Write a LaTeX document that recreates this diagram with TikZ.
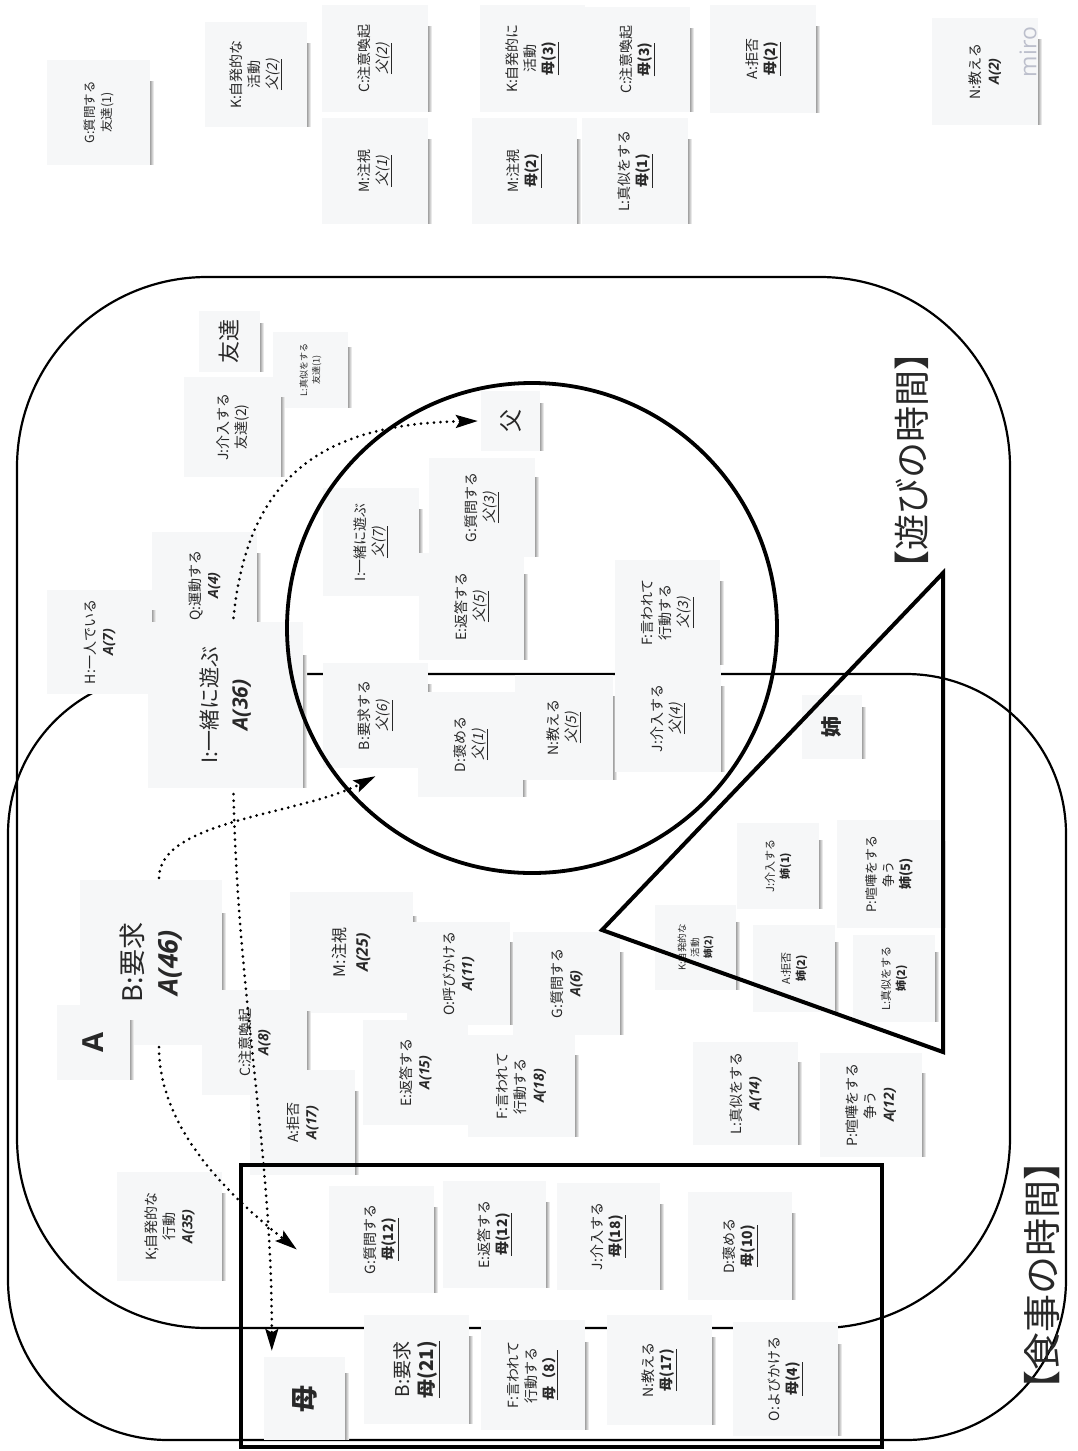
\documentclass[tikz,border=0pt]{standalone}
\usepackage{fontspec}
\setmainfont{Noto Sans CJK JP}
\newfontfamily\jpsl{Noto Sans CJK JP}[FakeSlant=0.2]
\newfontfamily\osans{Open Sans}
\usetikzlibrary{arrows.meta,calc}
\definecolor{notebg}{RGB}{246,247,248}
\definecolor{ink}{RGB}{40,40,40}
\definecolor{miroc}{RGB}{188,191,204}
\newcommand\cntA[1]{{\osans\bfseries\itshape #1}}
\newcommand\cntF[1]{\underline{\jpsl #1}}
\newcommand\cntM[1]{\underline{\bfseries #1}}
\newcommand\cntS[1]{{\bfseries #1}}
\tikzset{
  stick/.style={rotate=90, fill=notebg, inner sep=1pt, align=center, text=ink,
    font=\fontsize{14}{18}\selectfont},
  dotarrow/.style={line width=3pt, dash pattern=on 0pt off 6.5pt, line cap=round,
    -{Stealth[length=22pt,width=13pt,inset=4pt]}},
  zonebox/.style={line width=2.2pt},
  boldbox/.style={line width=3.8pt},
  biglabel/.style={rotate=90, inner sep=0pt, text=ink},
}
% \stk[options]{name}{x1}{y1}{x2}{y2}{text}
\newcommand\stk[7][]{%
  \shade[left color=black!50, right color=white] ({#5-1.5},{#4+0.2*(#6-#4)}) rectangle ({#5+4},{#6-1});
  \node[stick,#1,minimum width={#6-#4},minimum height={#5-#3}] (#2) at ({(#3+#5)/2},{(#4+#6)/2}) {#7};
}
\begin{document}
\begin{tikzpicture}[x=1pt,y=-1pt]
\useasboundingbox (0,0) rectangle (1077,1451);
\fill[white] (0,0) rectangle (1077,1451);

% zones
\draw[zonebox, rounded corners=190pt] (17,277) rectangle (1010,1328);
\draw[zonebox, rounded corners=160pt] (8,674) rectangle (1066,1440);

% top notes
\stk[font=\fontsize{12.5}{17}\selectfont]{gqt}{47}{60}{150}{165}{G:質問する\\友達(1)}
\stk{kfa}{205}{22}{307}{127}{K:自発的な\\活動\\\cntF{父(2)}}
\stk{cfa}{322}{5}{428}{112}{C:注意喚起\\\cntF{父(2)}}
\stk{mfa}{322}{118}{428}{224}{M:注視\\\cntF{父(1)}}
\stk{kha}{480}{5}{585}{112}{K:自発的に\\活動\\\cntM{母(3)}}
\stk{cha}{585}{7}{690}{112}{C:注意喚起\\\cntM{母(3)}}
\stk{mha}{472}{118}{577}{224}{M:注視\\\cntM{母(2)}}
\stk{lha}{582}{118}{688}{224}{L:真似をする\\\cntM{母(1)}}
\stk{aha}{710}{5}{816}{113}{A:拒否\\\cntM{母(2)}}
\stk{nat}{932}{18}{1038}{125}{N:教える\\\cntA{A(2)}}
\node[rotate=90, text=miroc, font=\osans\fontsize{23}{23}\selectfont] (miro) at (1028,52) {miro};

% play-time notes
\stk[font=\fontsize{22}{22}\selectfont]{tomo}{199}{311}{260}{372}{友達}
\stk[font=\fontsize{9}{12.5}\selectfont]{lfr}{273}{332}{348}{408}{L:真似をする\\友達(1)}
\stk{jfr}{184}{377}{281}{477}{J:介入する\\友達(2)}
\stk[font=\fontsize{23}{23}\selectfont]{fu}{481}{391}{540}{451}{父}
\stk{qa}{152}{532}{257}{639}{Q:運動する\\\cntA{A(4)}}
\stk{ha}{47}{590}{152}{694}{H:一人でいる\\\cntA{A(7)}}
\stk{ifa}{323}{488}{419}{596}{I:一緒に遊ぶ\\\cntF{父(7)}}
\stk{gfa}{429}{458}{535}{557}{G:質問する\\\cntF{父(3)}}
\stk{efa}{419}{553}{524}{660}{E:返答する\\\cntF{父(5)}}
\stk{ffa}{615}{560}{720}{665}{F:言われて\\行動する\\\cntF{父(3)}}
\stk[font=\fontsize{21}{30}\selectfont]{ia}{148}{622}{303}{788}{I:一緒に遊ぶ\\\cntA{A(36)}}
\stk{bfa}{323}{663}{428}{768}{B:要求する\\\cntF{父(6)}}
\stk{dfa}{418}{692}{523}{797}{D:褒める\\\cntF{父(1)}}
\stk{nfa}{515}{675}{613}{780}{N:教える\\\cntF{父(5)}}
\stk{jfa}{615}{665}{721}{772}{J:介入する\\\cntF{父(4)}}

% sister
\stk[font=\bfseries\fontsize{21}{21}\selectfont]{ane}{802}{695}{862}{759}{姉}
\stk[font=\fontsize{11}{15}\selectfont]{jne}{737}{823}{819}{909}{J:介入する\\\cntS{姉(1)}}
\stk[font=\fontsize{13}{17}\selectfont]{pne}{837}{820}{942}{928}{P:喧嘩をする\\争う\\\cntS{姉(5)}}
\stk[font=\fontsize{9.5}{13}\selectfont]{kne}{655}{905}{736}{990}{K:自発的な\\活動\\\cntS{姉(2)}}
\stk[font=\fontsize{11}{15}\selectfont]{ane2}{753}{925}{835}{1012}{A:拒否\\\cntS{姉(2)}}
\stk[font=\fontsize{11}{15}\selectfont]{lne}{853}{935}{935}{1022}{L:真似をする\\\cntS{姉(2)}}

% A notes
\stk[font=\fontsize{27}{35}\selectfont]{ba}{80}{880}{222}{1045}{B:要求\\\cntA{A(46)}}
\stk[font=\osans\bfseries\fontsize{29}{29}\selectfont]{alab}{57}{1005}{130}{1080}{A}
\stk[font=\fontsize{16}{22}\selectfont]{ma}{290}{892}{413}{1013}{M:注視\\\cntA{A(25)}}
\stk{oa}{407}{922}{510}{1025}{O:呼びかける\\\cntA{A(11)}}
\stk{ga}{513}{932}{620}{1035}{G:質問する\\\cntA{A(6)}}
\stk{ca}{202}{990}{307}{1095}{C:注意喚起\\\cntA{A(8)}}
\stk{ea}{363}{1020}{468}{1125}{E:返答する\\\cntA{A(15)}}
\stk{fa}{468}{1035}{575}{1137}{F:言われて\\行動する\\\cntA{A(18)}}
\stk{aa}{250}{1070}{355}{1175}{A:拒否\\\cntA{A(17)}}
\stk{la}{693}{1042}{798}{1145}{L:真似をする\\\cntA{A(14)}}
\stk{pa}{820}{1053}{922}{1157}{P:喧嘩をする\\争う\\\cntA{A(12)}}
\stk{ka}{117}{1172}{222}{1281}{K;自発的な\\行動\\\cntA{A(35)}}

% mother notes
\stk{gm}{329}{1186}{434}{1293}{G:質問する\\\cntM{母(12)}}
\stk{em}{443}{1181}{546}{1288}{E:返答する\\\cntM{母(12)}}
\stk{jm}{557}{1183}{660}{1290}{J:介入する\\\cntM{母(18)}}
\stk{dm}{688}{1192}{792}{1300}{D:褒める\\\cntM{母(10)}}
\stk[font=\bfseries\fontsize{27}{27}\selectfont]{hm}{264}{1357}{345}{1440}{母}
\stk[font=\fontsize{19}{24}\selectfont]{bm}{364}{1315}{469}{1424}{B:要求\\\cntM{母(21)}}
\stk{fm}{481}{1320}{585}{1430}{F:言われて\\行動する\\\cntM{母（8）}}
\stk{nm}{607}{1315}{712}{1425}{N:教える\\\cntM{母(17)}}
\stk{om}{733}{1322}{838}{1436}{O:よびかける\\\cntM{母(4)}}

% father circle, sister triangle, mother box
\draw[boldbox] (532,628) circle[radius=245];
\draw[line width=4pt, line join=miter] (943,573) -- (943,1052) -- (602,930) -- cycle;
\draw[boldbox] (241,1165) rectangle (882,1447);

% dotted arrows
\draw[dotarrow] ($(ia.east)+(8,-4)$) .. controls (248,470) and (330,424) .. ($(fu.north)+(-3,0)$);
\draw[dotarrow] ($(ba.east)+(8,-2)$) .. controls (159,820) and (300,815) .. ($(bfa.west)+(0,8)$);
\draw[dotarrow] ($(ba.west)+(8,2)$) .. controls (159,1120) and (215,1185) .. ($(gm.north)+(-32,10)$);
\draw[dotarrow] ($(ia.west)+(8,6)$) .. controls (238,1000) and (272,1150) .. ($(hm.north east)+(8,-6)$);

% zone labels
\node[biglabel, font=\fontsize{36}{36}\selectfont] (asobi) at (912,460) {【遊びの時間】};
\node[biglabel, font=\fontsize{38}{38}\selectfont] (shokuji) at (1042,1275) {【食事の時間】};
\end{tikzpicture}
\end{document}
